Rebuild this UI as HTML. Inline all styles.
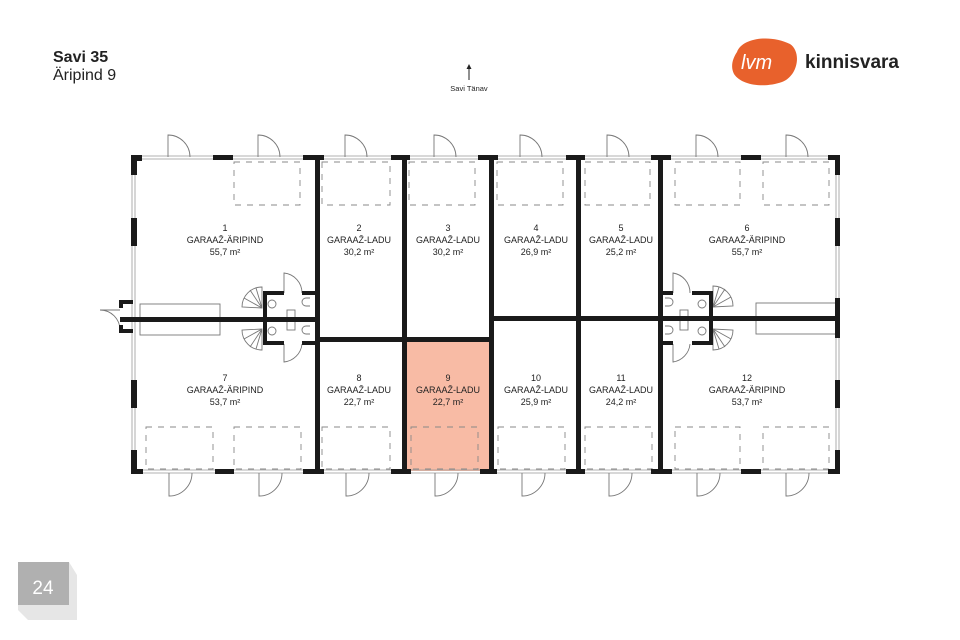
<!DOCTYPE html>
<html><head><meta charset="utf-8"><style>
html,body{margin:0;padding:0;background:#fff}
svg{display:block}
text{font-family:"Liberation Sans",sans-serif;fill:#222}
</style></head><body>
<svg width="960" height="640" viewBox="0 0 960 640" xmlns="http://www.w3.org/2000/svg">
<text x="53" y="62" font-size="16" font-weight="bold">Savi 35</text>
<text x="53" y="80" font-size="16">Äripind 9</text>
<path d="M737 52 C742 38 770 34 790 44 C802 52 798 76 782 82 C765 88 742 86 734 74 C730 66 733 58 737 52Z" fill="#e8612c"/>
<text x="741" y="69" font-size="20" font-style="italic" font-family="Liberation Serif,serif" style="fill:#fff">lvm</text>
<text x="805" y="68" font-size="19" font-weight="bold" style="fill:#222">kinnisvara</text>
<line x1="469" y1="80" x2="469" y2="67" stroke="#222" stroke-width="1"/>
<path d="M466.5 69 L469 64 L471.5 69Z" fill="#222"/>
<text x="469" y="91" font-size="7.5" text-anchor="middle">Savi Tänav</text>
<rect x="404" y="339" width="87" height="132" fill="#f8bba5"/>
<g fill="none" stroke="#999" stroke-width="0.8">
<line x1="133" y1="156" x2="838" y2="156"/><line x1="133" y1="159" x2="838" y2="159"/>
<line x1="133" y1="470" x2="838" y2="470"/><line x1="133" y1="473" x2="838" y2="473"/>
<line x1="132" y1="157" x2="132" y2="471"/><line x1="135" y1="157" x2="135" y2="471"/>
<line x1="836" y1="157" x2="836" y2="471"/><line x1="839" y1="157" x2="839" y2="471"/>
</g>
<g fill="none" stroke="#888" stroke-width="0.9" stroke-dasharray="6,6">
<rect x="234" y="162" width="66" height="43"/><rect x="322" y="162" width="68" height="43"/>
<rect x="409" y="162" width="66" height="43"/><rect x="497" y="162" width="66" height="43"/>
<rect x="585" y="162" width="65" height="43"/><rect x="675" y="162" width="65" height="43"/>
<rect x="763" y="162" width="66" height="43"/>
<rect x="146" y="427" width="67" height="42"/><rect x="234" y="427" width="67" height="42"/>
<rect x="322" y="427" width="68" height="42"/><rect x="411" y="427" width="67" height="42"/>
<rect x="498" y="427" width="67" height="42"/><rect x="585" y="427" width="67" height="42"/>
<rect x="675" y="427" width="65" height="42"/><rect x="763" y="427" width="66" height="42"/>
</g>
<g fill="none" stroke="#777" stroke-width="0.9">
<path d="M168 157 V135 A22 22 0 0 1 190 157"/><path d="M258 157 V135 A22 22 0 0 1 280 157"/>
<path d="M345 157 V135 A22 22 0 0 1 367 157"/><path d="M434 157 V135 A22 22 0 0 1 456 157"/>
<path d="M520 157 V135 A22 22 0 0 1 542 157"/><path d="M607 157 V135 A22 22 0 0 1 629 157"/>
<path d="M696 157 V135 A22 22 0 0 1 718 157"/><path d="M786 157 V135 A22 22 0 0 1 808 157"/>
<path d="M169 473 V496 A23 23 0 0 0 192 473"/><path d="M259 473 V496 A23 23 0 0 0 282 473"/>
<path d="M346 473 V496 A23 23 0 0 0 369 473"/><path d="M435 473 V496 A23 23 0 0 0 458 473"/>
<path d="M522 473 V496 A23 23 0 0 0 545 473"/><path d="M609 473 V496 A23 23 0 0 0 632 473"/>
<path d="M697 473 V496 A23 23 0 0 0 720 473"/><path d="M786 473 V496 A23 23 0 0 0 809 473"/>
<path d="M120 310 H100 A20 20 0 0 1 120 330"/>
<rect x="140" y="304" width="80" height="31"/><rect x="756" y="303" width="80" height="31"/>
<path d="M242 307 A20 20 0 0 1 262 287 V308 Z M262 308 L244 298 M262 308 L250 290 M262 308 L256 288"/>
<path d="M242 330 A20 20 0 0 0 262 350 V329 Z M262 329 L244 339 M262 329 L250 347 M262 329 L256 349"/>
<path d="M733 306 A20 20 0 0 0 713 286 V307 Z M713 307 L731 297 M713 307 L725 289 M713 307 L719 287"/>
<path d="M733 330 A20 20 0 0 1 713 350 V329 Z M713 329 L731 339 M713 329 L725 347 M713 329 L719 349"/>
<path d="M284 293 V273 A20 20 0 0 1 302 293"/><path d="M284 344 V362 A20 20 0 0 0 302 344"/>
<path d="M673 293 V273 A20 20 0 0 1 690 293"/><path d="M673 344 V362 A20 20 0 0 0 690 344"/>
<circle cx="272" cy="304" r="4"/><circle cx="272" cy="331" r="4"/>
<circle cx="702" cy="304" r="4"/><circle cx="702" cy="331" r="4"/>
<rect x="287" y="310" width="8" height="20"/><rect x="680" y="310" width="8" height="20"/>
<path d="M310 298 h-4 a4 4 0 0 0 0 8 h4"/><path d="M310 326 h-4 a4 4 0 0 0 0 8 h4"/>
<path d="M665 298 h4 a4 4 0 0 1 0 8 h-4"/><path d="M665 326 h4 a4 4 0 0 1 0 8 h-4"/>
</g>
<g fill="#1a1a1a">
<rect x="131" y="155" width="11" height="6"/><rect x="131" y="155" width="6" height="20"/>
<rect x="131" y="218" width="6" height="28"/>
<rect x="131" y="450" width="6" height="24"/><rect x="131" y="469" width="12" height="5"/>
<rect x="213" y="155" width="20" height="5"/><rect x="215" y="469" width="19" height="5"/>
<rect x="303" y="155" width="21" height="5"/><rect x="303" y="469" width="21" height="5"/>
<rect x="391" y="155" width="19" height="5"/><rect x="391" y="469" width="20" height="5"/>
<rect x="478" y="155" width="20" height="5"/><rect x="480" y="469" width="17" height="5"/>
<rect x="566" y="155" width="19" height="5"/><rect x="566" y="469" width="19" height="5"/>
<rect x="651" y="155" width="20" height="5"/><rect x="651" y="469" width="21" height="5"/>
<rect x="741" y="155" width="20" height="5"/><rect x="741" y="469" width="20" height="5"/>
<rect x="828" y="155" width="12" height="5"/><rect x="835" y="155" width="5" height="20"/>
<rect x="835" y="218" width="5" height="28"/><rect x="835" y="298" width="5" height="40"/>
<rect x="835" y="380" width="5" height="28"/><rect x="835" y="450" width="5" height="24"/><rect x="828" y="469" width="12" height="5"/>
<rect x="131" y="380" width="6" height="28"/>
<rect x="315" y="155" width="5" height="319"/><rect x="402" y="155" width="5" height="319"/>
<rect x="489" y="155" width="5" height="319"/><rect x="576" y="155" width="5" height="319"/>
<rect x="658" y="155" width="5" height="319"/>
<rect x="120" y="317" width="200" height="5"/><rect x="658" y="316" width="180" height="5"/>
<rect x="315" y="337" width="179" height="5"/><rect x="489" y="316" width="172" height="5"/>
<rect x="119" y="300" width="14" height="4"/><rect x="119" y="329" width="14" height="4"/>
<rect x="119" y="300" width="4" height="8"/><rect x="119" y="325" width="4" height="8"/>
<rect x="263" y="291" width="4" height="54"/><rect x="263" y="291" width="21" height="4"/>
<rect x="302" y="291" width="15" height="4"/><rect x="263" y="341" width="21" height="4"/>
<rect x="302" y="341" width="15" height="4"/>
<rect x="709" y="291" width="4" height="54"/><rect x="692" y="291" width="21" height="4"/>
<rect x="660" y="291" width="13" height="4"/><rect x="692" y="341" width="21" height="4"/>
<rect x="660" y="341" width="13" height="4"/>
</g>
<g font-size="9" text-anchor="middle">
<text x="225" y="231">1</text><text x="225" y="243">GARAAŽ-ÄRIPIND</text><text x="225" y="255">55,7 m²</text>
<text x="359" y="231">2</text><text x="359" y="243">GARAAŽ-LADU</text><text x="359" y="255">30,2 m²</text>
<text x="448" y="231">3</text><text x="448" y="243">GARAAŽ-LADU</text><text x="448" y="255">30,2 m²</text>
<text x="536" y="231">4</text><text x="536" y="243">GARAAŽ-LADU</text><text x="536" y="255">26,9 m²</text>
<text x="621" y="231">5</text><text x="621" y="243">GARAAŽ-LADU</text><text x="621" y="255">25,2 m²</text>
<text x="747" y="231">6</text><text x="747" y="243">GARAAŽ-ÄRIPIND</text><text x="747" y="255">55,7 m²</text>
<text x="225" y="381">7</text><text x="225" y="393">GARAAŽ-ÄRIPIND</text><text x="225" y="405">53,7 m²</text>
<text x="359" y="381">8</text><text x="359" y="393">GARAAŽ-LADU</text><text x="359" y="405">22,7 m²</text>
<text x="448" y="381">9</text><text x="448" y="393">GARAAŽ-LADU</text><text x="448" y="405">22,7 m²</text>
<text x="536" y="381">10</text><text x="536" y="393">GARAAŽ-LADU</text><text x="536" y="405">25,9 m²</text>
<text x="621" y="381">11</text><text x="621" y="393">GARAAŽ-LADU</text><text x="621" y="405">24,2 m²</text>
<text x="747" y="381">12</text><text x="747" y="393">GARAAŽ-ÄRIPIND</text><text x="747" y="405">53,7 m²</text>
</g>
<path d="M18 562 H69 L77 575 V620 H28 L18 610Z" fill="#e6e6e6"/>
<path d="M18 562 H69 V605 H18Z" fill="#b0b0b0"/>
<text x="43" y="594" font-size="19" text-anchor="middle" style="fill:#fff">24</text>
</svg>
</body></html>
